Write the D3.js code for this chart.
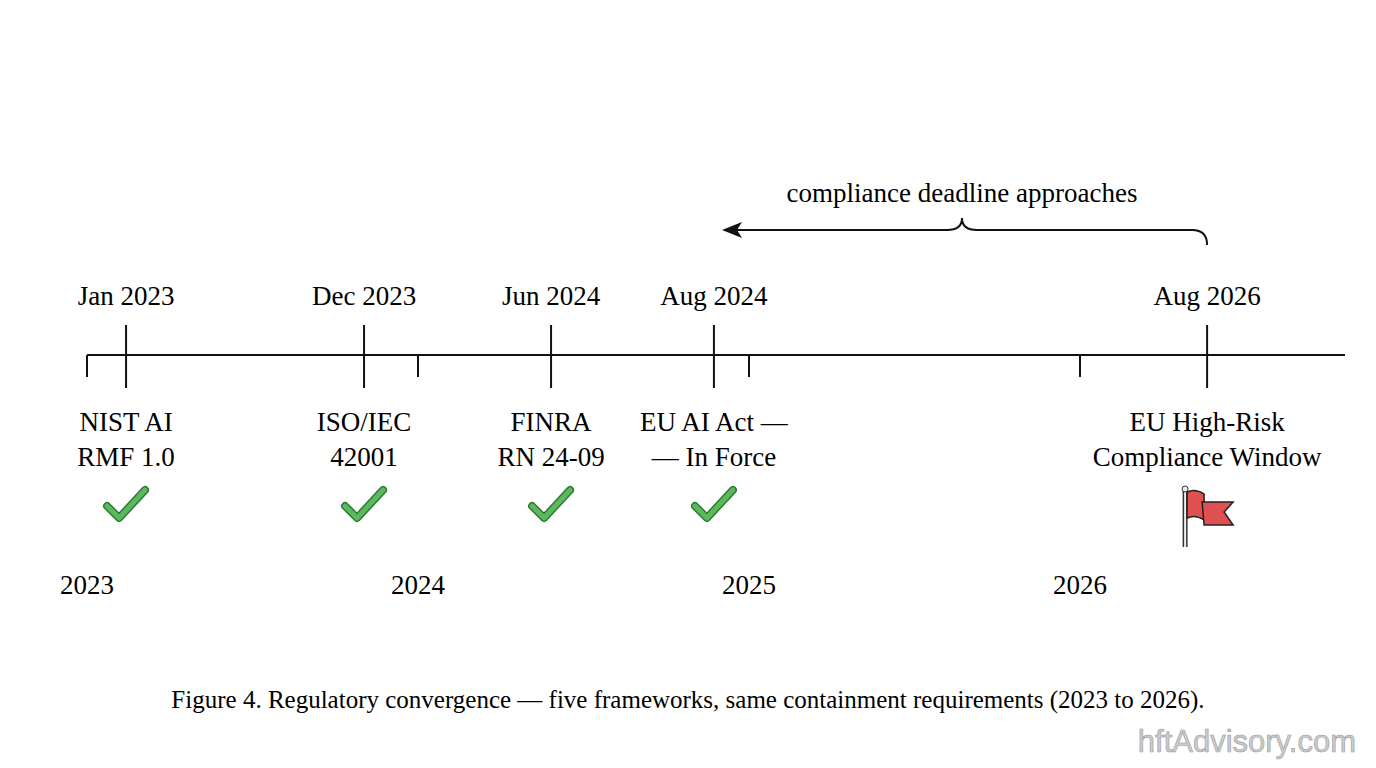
<!DOCTYPE html>
<html><head><meta charset="utf-8">
<script src="https://cdn.jsdelivr.net/npm/d3@7"></script>
<style>body{margin:0;background:#fff}</style></head>
<body><svg id="c" width="1376" height="768"></svg>
<script>
const years = [2023, 2024, 2025, 2026];
const eventPos = [2023.118, 2023.837, 2024.402, 2024.894, 2026.384];
const eventDates = ["Jan 2023", "Dec 2023", "Jun 2024", "Aug 2024", "Aug 2026"];
const eventNames = [["NIST AI","RMF 1.0"],["ISO/IEC","42001"],["FINRA","RN 24-09"],["EU AI Act —","— In Force"],["EU High-Risk","Compliance Window"]];
const eventStatus = ["done","done","done","done","pending"];

const svg = d3.select("#c");
const F = "'Liberation Serif', 'DejaVu Serif', serif";
const x = d3.scaleLinear().domain([2023, 2026]).range([87, 1080]);
const axisY = 355;

svg.append("line").attr("x1",87).attr("x2",1345).attr("y1",axisY).attr("y2",axisY).attr("stroke","#111").attr("stroke-width",2);
// year ticks
svg.selectAll(".yt").data(years).join("line").attr("x1",d=>x(d)).attr("x2",d=>x(d)).attr("y1",axisY).attr("y2",377).attr("stroke","#111").attr("stroke-width",2);
svg.selectAll(".yl").data(years).join("text").attr("x",d=>x(d)).attr("y",594).attr("text-anchor","middle").attr("font-family",F).attr("font-size",27).text(d=>d);

const ev = eventPos.map((p,i)=>({p,date:eventDates[i],name:eventNames[i],st:eventStatus[i]}));
const g = svg.selectAll(".ev").data(ev).join("g").attr("transform",d=>`translate(${x(d.p)},0)`);
g.append("line").attr("y1",325).attr("y2",388).attr("stroke","#111").attr("stroke-width",2);
g.append("text").attr("y",305).attr("text-anchor","middle").attr("font-family",F).attr("font-size",27).text(d=>d.date);
g.each(function(d){
  const s=d3.select(this);
  d.name.forEach((t,j)=>s.append("text").attr("y",431+j*35).attr("text-anchor","middle").attr("font-family",F).attr("font-size",27).text(t));
  if(d.st==="done"){
    s.append("path").attr("d","M-19,506 L-7,518 L19,490").attr("fill","none").attr("stroke","#2f7a34").attr("stroke-width",8).attr("stroke-linecap","round").attr("stroke-linejoin","round");
    s.append("path").attr("d","M-19,506 L-7,518 L19,490").attr("fill","none").attr("stroke","#5cb85c").attr("stroke-width",5).attr("stroke-linecap","round").attr("stroke-linejoin","round");
  } else {
    s.append("line").attr("x1",-22).attr("x2",-22).attr("y1",490).attr("y2",547).attr("stroke","#333").attr("stroke-width",5);
    s.append("line").attr("x1",-22).attr("x2",-22).attr("y1",490).attr("y2",547).attr("stroke","#eee").attr("stroke-width",2);
    s.append("circle").attr("cx",-22).attr("cy",489).attr("r",3).attr("fill","#eee").attr("stroke","#333");
    s.append("path").attr("d","M-20,492 Q-12,488 -3,494 L-3,520 Q-12,514 -20,518 Z").attr("fill","#e05050").attr("stroke","#222").attr("stroke-width",1.5);
    s.append("path").attr("d","M-5,502 L26,502 L17,512 L26,525 L-3,525 Z").attr("fill","#e05050").attr("stroke","#222").attr("stroke-width",1.5);
  }
});

// annotation
const ax1 = 722, ax2 = x(eventPos[4]), mid = 962, by = 230;
svg.append("path").attr("d",`M${ax2},245 Q${ax2},${by} ${ax2-15},${by} L${mid+15},${by} Q${mid},${by} ${mid},${by-12} Q${mid},${by} ${mid-15},${by} L${ax1+10},${by}`)
  .attr("fill","none").attr("stroke","#111").attr("stroke-width",2);
svg.append("path").attr("d",`M${ax1},${by} L${ax1+20},${by-8} L${ax1+15},${by} L${ax1+20},${by+8} Z`).attr("fill","#111");
svg.append("text").attr("x",mid).attr("y",202).attr("text-anchor","middle").attr("font-family",F).attr("font-size",27).text("compliance deadline approaches");

svg.append("text").attr("x",688).attr("y",708).attr("text-anchor","middle").attr("font-family",F).attr("font-size",25).text("Figure 4. Regulatory convergence — five frameworks, same containment requirements (2023 to 2026).");
svg.append("text").attr("x",1356).attr("y",752).attr("text-anchor","end").attr("font-family","'Liberation Sans', sans-serif").attr("font-size",31).attr("fill","#ccc").attr("stroke","#999").attr("stroke-width",0.6).text("hftAdvisory.com");
</script></body></html>
